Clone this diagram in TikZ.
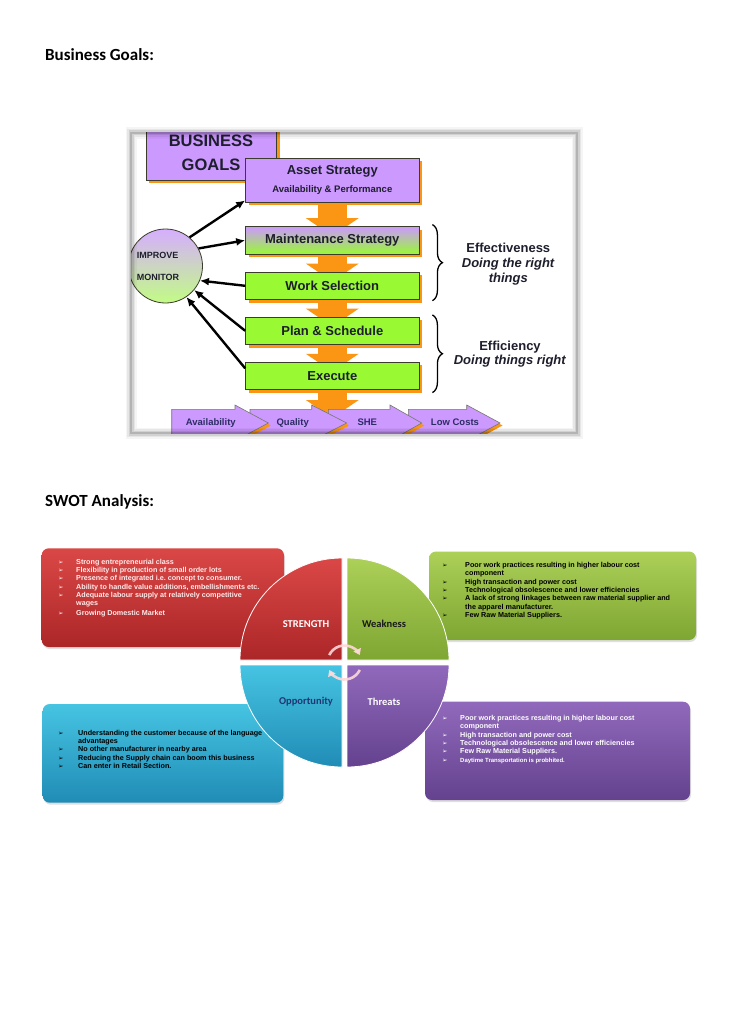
\documentclass[tikz,border=0pt]{standalone}
\usepackage{fontspec}
\setmainfont{Liberation Sans}
\newfontfamily\calib{Carlito}
\newfontfamily\djv{DejaVu Sans}
\usetikzlibrary{arrows.meta,positioning,calc,shadows,decorations.pathreplacing}
\pgfdeclarelayer{behind}
\pgfsetlayers{behind,main}

\definecolor{gpurple}{RGB}{204,153,255}
\definecolor{ggreen}{RGB}{153,250,51}
\definecolor{gorange}{RGB}{250,150,20}
\definecolor{gline}{RGB}{60,60,45}
\definecolor{gtext}{RGB}{30,30,45}
\definecolor{gnavy}{RGB}{45,45,100}
\definecolor{redtop}{RGB}{218,72,70}
\definecolor{redbot}{RGB}{172,38,40}
\definecolor{greentop}{RGB}{172,208,88}
\definecolor{greenbot}{RGB}{126,166,50}
\definecolor{bluetop}{RGB}{70,196,226}
\definecolor{bluebot}{RGB}{32,140,182}
\definecolor{purptop}{RGB}{145,105,188}
\definecolor{purpbot}{RGB}{100,66,142}
\definecolor{oppnavy}{RGB}{30,55,115}

\newcommand{\blt}{{\djv\fontsize{6.5}{6.5}\selectfont ➢}}

\begin{document}
\begin{tikzpicture}[x=1pt,y=-1pt,
    goalbox/.style={draw=gline, line width=0.9pt, minimum width=173.3pt, minimum height=27.5pt,
      inner sep=0pt, text=gtext, font=\bfseries\fontsize{13}{15}\selectfont,
      drop shadow={fill=gorange, opacity=1, shadow xshift=3pt, shadow yshift=-3pt}},
    purplebox/.style={goalbox, fill=gpurple},
    greenbox/.style={goalbox, fill=ggreen},
    flow/.style={draw=gorange, line width=29pt, -{Triangle[length=18pt,width=52pt]}},
    fb/.style={line width=2.4pt, -{Latex[length=9pt,width=8pt]}},
    chev/.style={fill=gpurple, draw=gline!70, line width=0.6pt},
    chevtext/.style={font=\bfseries\fontsize{9.5}{11}\selectfont, text=gnavy},
    note/.style={font=\bfseries\fontsize{13}{15}\selectfont, align=center, text=gtext},
    brc/.style={decorate, decoration={brace, amplitude=10pt}, line width=1.3pt},
    swotbox/.style={rounded corners=7pt, drop shadow={opacity=0.25, shadow xshift=1pt, shadow yshift=-2pt}},
    btext/.style={anchor=base west, inner sep=0pt, font=\bfseries\fontsize{7.2}{8.3}\selectfont},
    quad/.style={draw=white, line width=0.8pt},
    qlabel/.style={font=\calib\bfseries\fontsize{10.5}{12}\selectfont},
    cyc/.style={draw=white!85!red, opacity=0.9, line width=2.6pt, -{Triangle[length=6pt,width=8pt]}},
    heading/.style={anchor=base west, inner sep=0pt, font=\calib\bfseries\fontsize{17}{20}\selectfont}
  ]
  \useasboundingbox (0,0) rectangle (728,1030);
  \begin{pgfonlayer}{behind}
    \fill[white] (0,0) rectangle (728,1030);
  \end{pgfonlayer}

  \node[heading] (bghead) at (45,61) {Business Goals:};
  \node[heading] (swothead) at (45,506.7) {SWOT Analysis:};

  % business goals chart
  \begin{scope}
    \clip (131,133) rectangle (577,433);
    \draw[gline, line width=0.9pt, fill=gpurple, drop shadow={fill=gorange, opacity=1, shadow xshift=3pt, shadow yshift=-3pt}]
      (146,110) rectangle (276.7,180);
    \node[font=\bfseries\fontsize{16.5}{23.5}\selectfont, align=center, text=gtext] (bgtitle) at (211,153) {BUSINESS\\GOALS};

    \node[purplebox, minimum height=44pt, align=center] (asset) at (332.3,180.3)
      {Asset Strategy\\[3pt]{\fontsize{9.5}{11}\selectfont Availability \& Performance}};
    \node[goalbox, top color=gpurple, bottom color=ggreen] (maint) at (332.3,240.3) {Maintenance Strategy};
    \node[greenbox] (work) at (332.3,285.8) {Work Selection};
    \node[greenbox] (plan) at (332.3,330.8) {Plan \& Schedule};
    \node[greenbox] (exec) at (332.3,376) {Execute};
    \coordinate (flowend) at (332.3,418);

    \begin{pgfonlayer}{behind}
      \draw[flow] (asset.south) -- ($(maint.north)+(0,10)$);
      \draw[flow] (maint.south) -- ($(work.north)+(0,10)$);
      \draw[flow] (work.south) -- ($(plan.north)+(0,10)$);
      \draw[flow] (plan.south) -- ($(exec.north)+(0,10)$);
      \draw[flow] (exec.south) -- (flowend);
    \end{pgfonlayer}

    \node[circle, draw=gline, line width=0.8pt, minimum size=74pt,
      top color=gpurple!80!white, middle color=gpurple!45!ggreen!60!white, bottom color=ggreen!60!white] (circ) at (165.5,266) {};
    \node[anchor=west, align=left, inner sep=0pt, font=\bfseries\fontsize{9}{22}\selectfont, text=gtext] (impmon) at (136.7,266) {IMPROVE\\MONITOR};

    \draw[fb] (circ.50) -- (asset.193);
    \draw[fb] (circ.28) -- (maint.west);
    \draw[fb] (work.west) -- (circ.-23);
    \draw[fb] (plan.west) -- (circ.-40);
    \draw[fb] (exec.175) -- (circ.-56);

    % result chevrons, right one first
    \foreach \xl/\xb/\xt/\xm/\txt/\nm in {408.3/466.7/500/455/Low Costs/lowcost,
        328.3/390/421.7/367.3/SHE/she, 250/311.7/346.7/292.7/Quality/quality,
        171.7/235/268.3/210.8/Availability/avail} {
      \fill[gorange, xshift=2.5pt, yshift=-2.5pt] (\xl,409.3) -- (\xb,409.3) -- (\xb,405) -- (\xt,423)
        -- (\xb,441) -- (\xb,437) -- (\xl,437) -- cycle;
      \draw[chev] (\xl,409.3) -- (\xb,409.3) -- (\xb,405) -- (\xt,423)
        -- (\xb,441) -- (\xb,437) -- (\xl,437) -- cycle;
      \node[chevtext] (\nm) at (\xm,422.7) {\txt};
    }
  \end{scope}

  \draw[brc] ($(maint.north east)+(13,-1.5)$) -- ($(work.south east)+(13,0.7)$);
  \draw[brc] ($(plan.north east)+(13,-1.7)$) -- ($(exec.south east)+(13,2.4)$);
  \node[note] (effect) at (508.3,264.3) {Effectiveness\\\textit{Doing the right}\\\textit{things}};
  \node[note, font=\bfseries\fontsize{13}{14}\selectfont] (effic) at (510,354.3) {Efficiency\\\textit{Doing things right}};

  % soft frame round the chart
  \foreach \w/\o in {11/0.04, 8/0.06, 5/0.09, 2.5/0.14} {
    \draw[black, line width=\w pt, opacity=\o] (131,133) rectangle (577,433);
  }

  % SWOT boxes
  \node[swotbox, top color=redtop, bottom color=redbot, minimum width=242.3pt, minimum height=98.7pt] (sbox) at (162.85,597.65) {};
  \node[swotbox, top color=greentop, bottom color=greenbot, minimum width=267pt, minimum height=88.5pt] (wbox) at (562.5,595.75) {};
  \node[swotbox, top color=bluetop, bottom color=bluebot, minimum width=240.6pt, minimum height=98.7pt] (obox) at (163,753.35) {};
  \node[swotbox, top color=purptop, bottom color=purpbot, minimum width=265pt, minimum height=98.3pt] (tbox) at (557.5,750.85) {};

  \node[btext, text=white!92!red] (stext) at (58,564.3) {\begin{tabular}[t]{@{}p{18pt}@{}l@{}}
    \blt & Strong entrepreneurial class\\
    \blt & Flexibility in production of small order lots\\
    \blt & Presence of integrated i.e.\ concept to consumer.\\
    \blt & Ability to handle value additions, embellishments etc.\\
    \blt & Adequate labour supply at relatively competitive\\
         & wages\\[1pt]
    \blt & Growing Domestic Market
  \end{tabular}};
  \node[btext, text=black] (wtext) at (442,567.6) {\begin{tabular}[t]{@{}p{23pt}@{}l@{}}
    \blt & Poor work practices resulting in higher labour cost\\
         & component\\
    \blt & High transaction and power cost\\
    \blt & Technological obsolescence and lower efficiencies\\
    \blt & A lack of strong linkages between raw material supplier and\\
         & the apparel manufacturer.\\
    \blt & Few Raw Material Suppliers.
  \end{tabular}};
  \node[btext, text=black] (otext) at (58,735.3) {\begin{tabular}[t]{@{}p{20pt}@{}l@{}}
    \blt & Understanding the customer because of the language\\
         & advantages\\
    \blt & No other manufacturer in nearby area\\
    \blt & Reducing the Supply chain can boom this business\\
    \blt & Can enter in Retail Section.
  \end{tabular}};
  \node[btext, text=white] (ttext) at (442,720.6) {\begin{tabular}[t]{@{}p{18pt}@{}l@{}}
    \blt & Poor work practices resulting in higher labour cost\\
         & component\\
    \blt & High transaction and power cost\\
    \blt & Technological obsolescence and lower efficiencies\\
    \blt & Few Raw Material Suppliers.\\
    \blt & {\fontsize{6}{7}\selectfont Daytime Transportation is probhited.}
  \end{tabular}};

  % SWOT quarters
  \shade[quad, top color=redtop, bottom color=redbot] (342,660) -- (240,660) arc[start angle=180, end angle=270, radius=102] -- cycle;
  \shade[quad, top color=greentop, bottom color=greenbot] (347,660) -- (347,558) arc[start angle=270, end angle=360, radius=102] -- cycle;
  \shade[quad, top color=purptop, bottom color=purpbot] (347,665) -- (449,665) arc[start angle=0, end angle=90, radius=102] -- cycle;
  \shade[quad, top color=bluetop, bottom color=bluebot] (342,665) -- (342,767) arc[start angle=90, end angle=180, radius=102] -- cycle;

  \node[qlabel, text=white] (str) at (306,624) {STRENGTH};
  \node[qlabel, text=black!90] (weak) at (384,624) {Weakness};
  \node[qlabel, text=oppnavy] (opp) at (306,702) {Opportunity};
  \node[qlabel, text=white] (thr) at (384,702) {Threats};

  \coordinate (mid) at (344.5,662.5);
  \draw[cyc] ($(mid)+(206:17)$) arc[start angle=206, end angle=334, radius=17];
  \draw[cyc] ($(mid)+(26:17)$) arc[start angle=26, end angle=154, radius=17];
\end{tikzpicture}
\end{document}
